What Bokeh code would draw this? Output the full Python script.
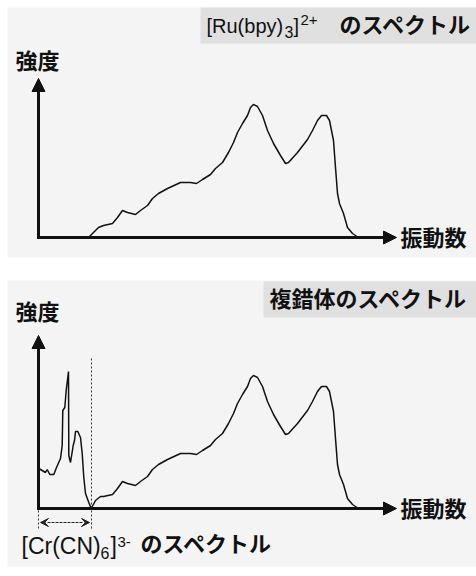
from bokeh.plotting import figure
from bokeh.models import Range1d, Arrow, NormalHead, VeeHead
from bokeh.core.properties import value
from bokeh.embed import file_html
from bokeh.resources import INLINE

# [Ru(bpy)3]2+ spectrum (vibration number vs intensity, arbitrary units)
ru_x = [50, 52, 60, 65, 74, 79, 84, 89, 97, 102, 109, 114, 120, 129, 142, 152, 158, 164,
        172, 177, 184, 190, 195, 199, 204, 209, 212, 215, 219, 224, 229, 235, 242, 247,
        250, 259, 269, 274, 279, 283, 288, 291, 295, 297, 299, 301, 305, 309, 314, 320]
ru_y = [0, 2, 10, 12, 14, 20, 27, 25, 23, 27, 32, 39, 44, 49, 55, 55, 54, 58,
        63, 69, 75, 85, 95, 105, 114, 122, 130, 133, 131, 122, 107, 94, 82, 74,
        75, 85, 98, 107, 117, 122, 122, 117, 97, 70, 44, 34, 24, 10, 4, 0]

# [Cr(CN)6]3- spectrum
cr_x = [0.3, 3.7, 7, 8.7, 11.3, 15.3, 18, 22, 23.7, 24.3, 26.3, 27.7, 30, 30.3, 32,
        34.7, 36, 37, 39.3, 42, 43.7, 45.3, 47, 50.3, 52.7]
cr_y = [40, 38, 36, 39, 34, 34, 41, 50, 63, 98, 101, 118, 137, 53, 46,
        63, 68, 77, 77, 71, 55, 31, 15, 6, 0]

# complex spectrum = Cr part followed by the Ru part
cx_x = cr_x + [57, 62] + [x for x in ru_x if x > 62]
cx_y = cr_y + [8, 12] + [y for x, y in zip(ru_x, ru_y) if x > 62]

title_top = ["[Ru(bpy)", "3", "]", "2+", "のスペクトル"]
title_bottom = "複錯体のスペクトル"
label_cr = ["[Cr(CN)", "6", "]", "3-", "のスペクトル"]
y_label = "強度"
x_label = "振動数"

W, H = 476, 576
p = figure(width=W, height=H, output_backend="svg", toolbar_location=None,
           x_range=Range1d(0, W), y_range=Range1d(H, 0),
           x_axis_type=None, y_axis_type=None, min_border=0)
p.outline_line_color = None
p.grid.visible = False
p.background_fill_color = "white"
p.border_fill_color = "white"
p.extra_x_ranges = {"spec": Range1d(-38, W - 38)}
p.extra_y_ranges = {"top": Range1d(-(H - 237), 237), "bot": Range1d(-(H - 508), 508)}

JP = value("Noto Sans CJK JP")
LAT = value("Liberation Sans")
INK = "#111111"

# panel backgrounds
p.quad(left=[7, 7], right=[W, W], top=[7, 280], bottom=[257, 566],
       fill_color="#f4f4f4", line_color=None)
# title boxes
p.quad(left=[200, 263], right=[W, W], top=[7, 281], bottom=[43, 317],
       fill_color="#e0e0e0", line_color=None)

# spectra
p.line(ru_x, ru_y, x_range_name="spec", y_range_name="top", line_color=INK, line_width=1.5)
p.line(cx_x, cx_y, x_range_name="spec", y_range_name="bot", line_color=INK, line_width=1.5)

# axes arrows
for y0, ytop in [(237, 78), (508, 335)]:
    p.add_layout(Arrow(x_start=38, y_start=y0, x_end=38, y_end=ytop, line_width=3,
                       line_color=INK, line_cap="square",
                       end=NormalHead(size=13, fill_color=INK, line_color=INK, line_width=1)))
    p.add_layout(Arrow(x_start=38, y_start=y0, x_end=396, y_end=y0, line_width=3,
                       line_color=INK, line_cap="square",
                       end=NormalHead(size=13, fill_color=INK, line_color=INK, line_width=1)))

# dotted guides
p.line([91, 91], [358, 530], line_color="#333333", line_width=1, line_dash="2 2")
p.line([38, 38], [510, 530], line_color="#333333", line_width=1, line_dash="2 2")
p.add_layout(Arrow(x_start=48, y_start=522, x_end=89, y_end=522, line_color="#222222",
                   line_width=1, line_dash="2 2",
                   end=VeeHead(size=8, fill_color="#222222", line_color="#222222", line_width=1)))
p.add_layout(Arrow(x_start=81, y_start=522, x_end=40, y_end=522, line_color="#222222",
                   line_width=1, line_dash="2 2",
                   end=VeeHead(size=8, fill_color="#222222", line_color="#222222", line_width=1)))


def txt(x, y, s, font, size, bold=False, align="left"):
    p.text(x=[x], y=[y], text=[s], text_font=font, text_font_size=size,
           text_font_style="bold" if bold else "normal", text_align=align,
           text_baseline="middle", text_color=INK)


# axis labels
for yc in [58, 309]:
    txt(37, yc, y_label, JP, "22px", True, "center")
for yc in [235, 506]:
    txt(400, yc, x_label, JP, "22px", True)

# top title with sub/superscripts
txt(206, 25, title_top[0], LAT, "20px")
txt(284, 31, title_top[1], LAT, "16px")
txt(293, 25, title_top[2], LAT, "20px")
txt(300, 19, title_top[3], LAT, "15px")
txt(339, 22, title_top[4], JP, "22px", True)

# bottom title
txt(269, 296, title_bottom, JP, "22px", True)

# Cr label
txt(21, 545, label_cr[0], LAT, "23px")
txt(100, 552, label_cr[1], LAT, "16px")
txt(110, 545, label_cr[2], LAT, "23px")
txt(117, 541, label_cr[3], LAT, "15px")
txt(140, 541, label_cr[4], JP, "22px", True)

open("out.html", "w").write(file_html(p, INLINE))
